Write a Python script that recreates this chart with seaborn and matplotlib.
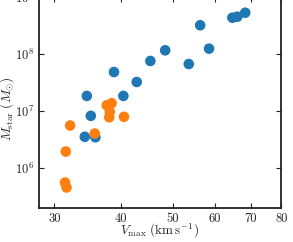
import numpy as np
import pandas as pd
import matplotlib
matplotlib.use("Agg")
import matplotlib.pyplot as plt
import matplotlib.ticker as mticker
import seaborn as sns

# 兩組樣本: Vmax (km/s) 與 Mstar (Msun)
vmax_blue = [34.5, 40.4, 35.1, 34.2, 35.8, 38.8, 42.8, 45.4, 48.4, 53.6,
             56.3, 58.5, 64.7, 66.1, 68.4]
mstar_blue = [1.85e7, 1.85e7, 8.3e6, 3.57e6, 3.5e6, 4.84e7, 3.24e7, 7.55e7, 1.16e8, 6.68e7,
              3.18e8, 1.24e8, 4.31e8, 4.49e8, 5.27e8]
vmax_orange = [32.1, 31.5, 35.7, 37.6, 38.4, 38.1, 38.0, 40.5, 31.4, 31.6]
mstar_orange = [5.62e6, 1.97e6, 4.07e6, 1.27e7, 1.38e7, 9.77e6, 7.82e6, 7.98e6, 5.66e5, 4.64e5]

xticks = [30, 40, 50, 60, 70, 80]
yticks = [1e6, 1e7, 1e8, 1e9]

df = pd.DataFrame({
    "vmax": vmax_blue + vmax_orange,
    "mstar": mstar_blue + mstar_orange,
    "group": ["a"] * len(vmax_blue) + ["b"] * len(vmax_orange),
})

sns.set_style("ticks")
plt.rcParams["font.family"] = "serif"
plt.rcParams["font.serif"] = ["cmr10"]
plt.rcParams["mathtext.fontset"] = "cm"
plt.rcParams["axes.formatter.use_mathtext"] = True

fig = plt.figure(figsize=(2.93, 2.42), dpi=100)
ax = fig.add_axes([0.1331, 0.1405, 0.8276, 0.8727])
ax.set_xscale("log")
ax.set_yscale("log")

sns.scatterplot(data=df, x="vmax", y="mstar", hue="group",
                palette={"a": "#1f77b4", "b": "#ff7f0e"},
                s=58, linewidth=0, legend=False, ax=ax)

ax.set_xlim(28.06, 80)
ax.set_ylim(2.03e5, 1e9)
ax.set_xticks(xticks)
ax.set_xticklabels([str(t) for t in xticks])
ax.xaxis.set_minor_locator(mticker.NullLocator())
ax.set_yticks(yticks)
ax.yaxis.set_minor_locator(mticker.NullLocator())

ax.tick_params(direction="in", top=True, right=True, length=3.5, width=0.8,
               labelsize=9, colors="#222222")
for spine in ax.spines.values():
    spine.set_linewidth(1.3)
    spine.set_color("#222222")

ax.set_xlabel(r"$V_{\rm max}\ ({\rm km\,s^{-1}})$", fontsize=9.5)
ax.set_ylabel(r"$M_{\rm star}\ (M_{\odot})$", fontsize=9.5)
ax.xaxis.set_label_coords(0.498, -0.066)
ax.yaxis.set_label_coords(-0.094, 0.47)

fig.savefig("out.png", dpi=100)
